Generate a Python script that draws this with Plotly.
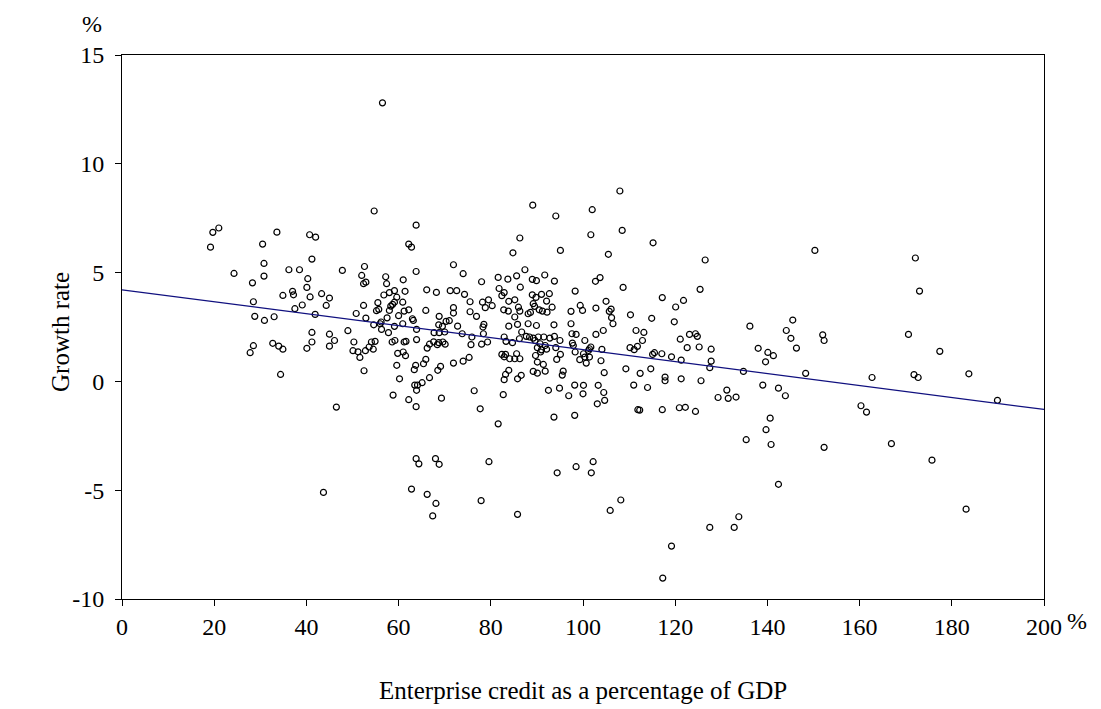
import plotly.graph_objects as go

credit_pct = [
    19.2, 19.7, 21.0, 24.3, 30.5, 33.6, 30.8, 30.8, 28.3, 36.2, 38.5, 40.7, 41.2, 40.3, 40.1, 40.8, 37.0, 37.2, 34.9, 39.1,
    37.5, 28.5, 28.8, 30.9, 33.0, 32.7, 34.0, 34.9, 28.5, 27.8, 34.4, 40.1, 41.2, 41.2,
    54.7, 42.0, 63.8, 62.2, 62.8, 47.8, 52.6, 52.0, 52.9, 52.4, 57.2, 57.4, 61.0, 63.8, 61.4, 43.3, 45.0, 56.8, 58.0, 59.1,
    44.3, 41.9, 45.0, 46.1, 45.0, 49.0, 46.5, 52.4, 50.8, 52.9, 50.3, 50.1, 51.2, 51.6, 52.8, 53.6, 54.1, 54.9, 54.5, 52.5,
    54.6, 55.5, 55.2, 55.7, 56.2, 56.0, 56.3, 57.5, 58.0, 58.3, 58.7, 59.1, 59.6, 60.9, 61.2, 62.2, 60.0, 63.0, 63.2, 60.9,
    59.1, 57.8, 63.9, 63.9, 58.6, 59.2, 61.2, 61.6, 59.8, 61.0, 61.5, 59.6, 63.7, 63.4, 60.2, 58.8, 63.5, 64.1, 63.9, 62.2,
    63.8,
    71.9, 74.0, 66.1, 68.2, 71.2, 72.6, 74.3, 78.0, 81.6, 83.7, 85.6, 87.4, 86.3, 84.8, 81.8, 82.9, 82.4, 86.4,
    65.9, 75.5, 71.9, 71.9, 75.5, 76.9, 78.2, 79.5, 80.3, 78.8, 83.9, 85.2, 86.0, 86.3, 82.8, 83.8, 85.2, 88.1, 85.8, 83.9,
    86.7, 88.1, 87.7, 86.2, 82.9, 83.3, 84.7, 78.5, 78.3, 78.4, 79.3, 78.0, 75.9, 75.7, 73.8, 72.8, 71.0, 70.3, 69.5, 68.7,
    68.8, 70.0, 68.8, 67.7, 69.6, 68.7, 67.6, 66.7, 66.2, 68.4, 70.1, 65.9, 65.4, 69.1, 68.5, 71.9, 74.0, 75.3, 66.7, 65.1,
    69.3, 76.4, 77.7, 81.6, 82.9, 82.4, 83.2, 84.1, 85.2, 85.6, 86.3, 83.9, 83.2, 82.9, 86.6, 85.8, 82.7,
    108.0, 89.1, 94.1, 102.0, 101.7, 108.5, 95.1, 105.5, 89.0, 89.9, 91.7, 93.8, 98.3, 102.7, 103.7, 108.7, 89.0, 91.0, 92.7, 89.8,
    89.2, 89.5, 92.1, 93.3, 90.5, 91.2, 92.2, 88.6, 99.4, 99.9, 97.4, 102.8, 105.0, 105.7, 106.1, 106.2, 106.5, 110.3, 111.5, 89.9,
    93.7, 97.4, 97.6, 98.5, 102.8, 104.4, 88.4, 89.2, 89.6, 90.3, 91.5, 92.8, 93.8, 95.0, 90.7, 91.8, 90.1, 91.0, 92.1, 90.8,
    94.1, 97.7, 97.9, 100.4, 101.4, 101.7, 101.2, 98.3, 100.1, 100.4, 101.4, 99.3, 100.7, 104.1, 103.9, 95.1, 94.3, 89.7, 90.1, 91.4,
    89.2, 90.1, 91.8, 95.7, 95.5, 104.6, 109.3, 111.0, 110.2, 92.5, 94.9, 98.2, 100.1, 96.9, 100.0, 103.3, 104.5, 104.7, 103.1, 93.7,
    98.2, 111.9,
    115.2, 126.5, 125.4, 117.2, 120.1, 121.8, 114.9, 119.8, 113.2, 112.9, 111.8, 111.1, 121.1, 123.1, 124.4, 124.8, 122.6, 125.2, 127.8, 136.2,
    138.0, 140.1, 141.3, 139.6, 115.1, 115.5, 117.1, 119.2, 121.3, 127.8, 127.5, 134.8, 114.7, 112.4, 114.0, 117.8, 117.8, 121.3, 125.6, 131.2,
    129.3, 131.5, 133.2, 139.0, 142.4, 112.3, 117.2, 120.9, 122.2, 124.4, 140.6, 139.7,
    150.3, 172.1, 173.0, 145.5, 144.1, 145.1, 146.3, 152.0, 152.3, 170.6, 177.4, 148.3, 162.7, 171.8, 172.7, 183.7, 189.9, 143.9, 160.3, 161.5,
    63.8, 64.4, 68.0, 68.8, 79.6, 94.4, 98.5, 43.7, 62.8, 66.2, 68.1, 67.4, 77.9, 85.8,
    135.4, 140.8, 152.3, 166.9, 175.7, 102.2, 101.8, 142.4, 108.2, 105.9, 183.1, 133.8, 127.5, 132.8, 119.2, 117.3,
    56.5,
]

growth_rate = [
    6.17, 6.85, 7.05, 4.96, 6.31, 6.86, 5.42, 4.84, 4.53, 5.13, 5.13, 6.74, 5.62, 4.72, 4.32, 3.88, 4.14, 3.98, 3.95, 3.51,
    3.34, 3.66, 2.99, 2.80, 2.97, 1.75, 1.62, 1.48, 1.64, 1.32, 0.32, 1.52, 2.25, 1.81,
    7.83, 6.63, 7.18, 6.31, 6.17, 5.10, 5.28, 4.87, 4.56, 4.49, 4.81, 4.49, 4.67, 5.05, 4.14, 4.03, 3.83, 3.97, 4.08, 4.17,
    3.49, 3.08, 2.17, 1.88, 1.62, 2.33, -1.18, 3.49, 3.12, 2.91, 1.81, 1.41, 1.36, 1.10, 1.41, 1.58, 1.81, 1.84, 1.48, 0.49,
    2.60, 3.62, 3.25, 3.31, 2.73, 2.65, 2.39, 2.92, 3.26, 3.46, 3.54, 3.64, 3.87, 3.64, 3.23, 3.29, 3.02, 2.88, 2.80, 2.65,
    2.53, 2.24, 2.39, 1.92, 1.81, 1.88, 1.81, 1.84, 1.29, 1.35, 1.18, 0.74, 0.74, 0.54, 0.12, -0.63, -0.17, -0.17, -0.41, -0.84,
    -1.16,
    5.36, 4.95, 4.21, 4.09, 4.17, 4.17, 4.00, 4.58, 4.78, 4.70, 4.85, 5.13, 6.59, 5.91, 4.27, 4.08, 3.94, 4.33,
    3.26, 3.66, 3.39, 3.14, 3.20, 2.99, 3.64, 3.75, 3.48, 3.39, 3.68, 3.75, 3.41, 3.23, 3.29, 3.23, 2.96, 3.11, 2.62, 2.54,
    2.27, 2.65, 2.07, 1.96, 2.04, 1.84, 1.78, 2.62, 2.50, 2.19, 1.81, 1.71, 2.04, 1.69, 2.19, 2.54, 2.79, 2.76, 2.53, 2.60,
    2.99, 2.27, 2.24, 2.24, 1.81, 1.78, 1.82, 1.71, 1.53, 1.69, 1.71, 1.01, 0.81, 0.69, 0.51, 0.84, 0.93, 1.10, 0.17, -0.06,
    -0.77, -0.43, -1.26, -1.95, 1.13, 1.24, 1.24, 1.04, 1.04, 1.27, 1.04, 0.51, 0.32, 0.08, 0.28, 0.12, -0.61,
    8.75, 8.10, 7.60, 7.89, 6.74, 6.94, 6.02, 5.84, 4.69, 4.63, 4.89, 4.61, 4.15, 4.60, 4.77, 4.32, 3.98, 4.00, 4.03, 3.86,
    3.57, 3.45, 3.69, 3.41, 3.29, 3.23, 3.18, 3.17, 3.49, 3.26, 3.22, 3.37, 3.68, 3.22, 3.32, 2.93, 2.65, 3.06, 2.34, 2.57,
    2.60, 2.65, 2.19, 2.16, 2.16, 2.34, 2.04, 1.99, 1.88, 2.04, 2.04, 1.99, 2.07, 1.88, 1.73, 1.65, 1.55, 1.45, 1.48, 1.35,
    1.55, 1.76, 1.65, 1.88, 1.50, 1.58, 1.42, 1.35, 1.27, 1.12, 1.12, 1.00, 0.84, 1.47, 0.95, 1.24, 1.01, 1.19, 0.89, 0.78,
    0.46, 0.38, 0.47, 0.47, 0.29, 0.40, 0.58, -0.17, 1.55, -0.41, -0.31, -0.17, -0.18, -0.66, -0.57, -0.18, -0.51, -0.87, -1.03, -1.64,
    -1.56, -1.30,
    6.37, 5.58, 4.23, 3.85, 3.42, 3.72, 2.90, 2.74, 2.25, 1.88, 1.61, 1.46, 1.94, 2.16, 2.19, 2.07, 1.55, 1.58, 1.48, 2.54,
    1.52, 1.33, 1.18, 0.90, 1.24, 1.32, 1.27, 1.13, 0.98, 0.93, 0.63, 0.46, 0.58, 0.37, -0.28, 0.20, 0.03, 0.12, 0.03, -0.40,
    -0.74, -0.78, -0.72, -0.17, -0.31, -1.32, -1.30, -1.21, -1.19, -1.38, -1.69, -2.22,
    6.02, 5.67, 4.15, 2.82, 2.34, 1.98, 1.53, 2.14, 1.88, 2.16, 1.38, 0.37, 0.18, 0.31, 0.18, 0.35, -0.87, -0.66, -1.12, -1.41,
    -3.55, -3.79, -3.55, -3.81, -3.69, -4.20, -3.92, -5.10, -4.95, -5.19, -5.61, -6.18, -5.48, -6.11,
    -2.68, -2.90, -3.03, -2.86, -3.62, -3.69, -4.20, -4.73, -5.45, -5.93, -5.87, -6.22, -6.71, -6.71, -7.57, -9.04,
    12.8,
]

trend_x = [0, 200]
trend_y = [4.21, -1.29]

x_ticks = [0, 20, 40, 60, 80, 100, 120, 140, 160, 180, 200]
y_ticks = [-10, -5, 0, 5, 10, 15]

FONT = "Liberation Serif, Times New Roman, serif"
FS = 24
FT = 25

fig = go.Figure()
fig.add_trace(go.Scatter(
    x=credit_pct, y=growth_rate, mode="markers",
    marker=dict(symbol="circle-open", size=6, color="black", line=dict(width=1.2, color="black")),
    showlegend=False, hoverinfo="x+y",
))
fig.add_trace(go.Scatter(
    x=trend_x, y=trend_y, mode="lines",
    line=dict(color="#10107f", width=1.2), showlegend=False,
))

fig.update_layout(
    width=1101, height=709,
    margin=dict(l=114, r=65, t=47, b=118),
    paper_bgcolor="white", plot_bgcolor="white",
    font=dict(family=FONT, size=FS, color="black"),
    xaxis=dict(
        range=[0, 200], tickvals=x_ticks, ticktext=[str(v) for v in x_ticks],
        showgrid=False, zeroline=False, showline=True, linecolor="black", linewidth=1,
        mirror=True, ticks="outside", ticklen=6, tickcolor="black",
        tickfont=dict(family=FONT, size=FS),
    ),
    yaxis=dict(
        range=[-10, 15], tickvals=y_ticks, ticktext=[str(v) for v in y_ticks],
        showgrid=False, zeroline=False, showline=True, linecolor="black", linewidth=1,
        mirror=True, ticks="outside", ticklen=6, tickcolor="black",
        ticklabelstandoff=6,
        tickfont=dict(family=FONT, size=FS),
    ),
    annotations=[
        dict(text="%", x=0, y=1, xref="paper", yref="paper", xshift=-30, yshift=31,
             xanchor="center", yanchor="middle", showarrow=False,
             font=dict(family=FONT, size=FS)),
        dict(text="Growth rate", xref="paper", yref="paper", x=0, y=0.5,
             xshift=-62, yshift=-5, xanchor="center", yanchor="middle",
             textangle=-90, showarrow=False, font=dict(family=FONT, size=FT)),
        dict(text="%", xref="paper", yref="paper", x=1.0, y=0, xshift=33, yshift=-22,
             xanchor="center", yanchor="middle",
             showarrow=False, font=dict(family=FONT, size=FS)),
        dict(text="Enterprise credit as a percentage of GDP", xref="paper", yref="paper",
             x=0.5, y=0, yshift=-91, xanchor="center", yanchor="middle",
             showarrow=False, font=dict(family=FONT, size=FT)),
    ],
)

fig.write_html("out.html")
